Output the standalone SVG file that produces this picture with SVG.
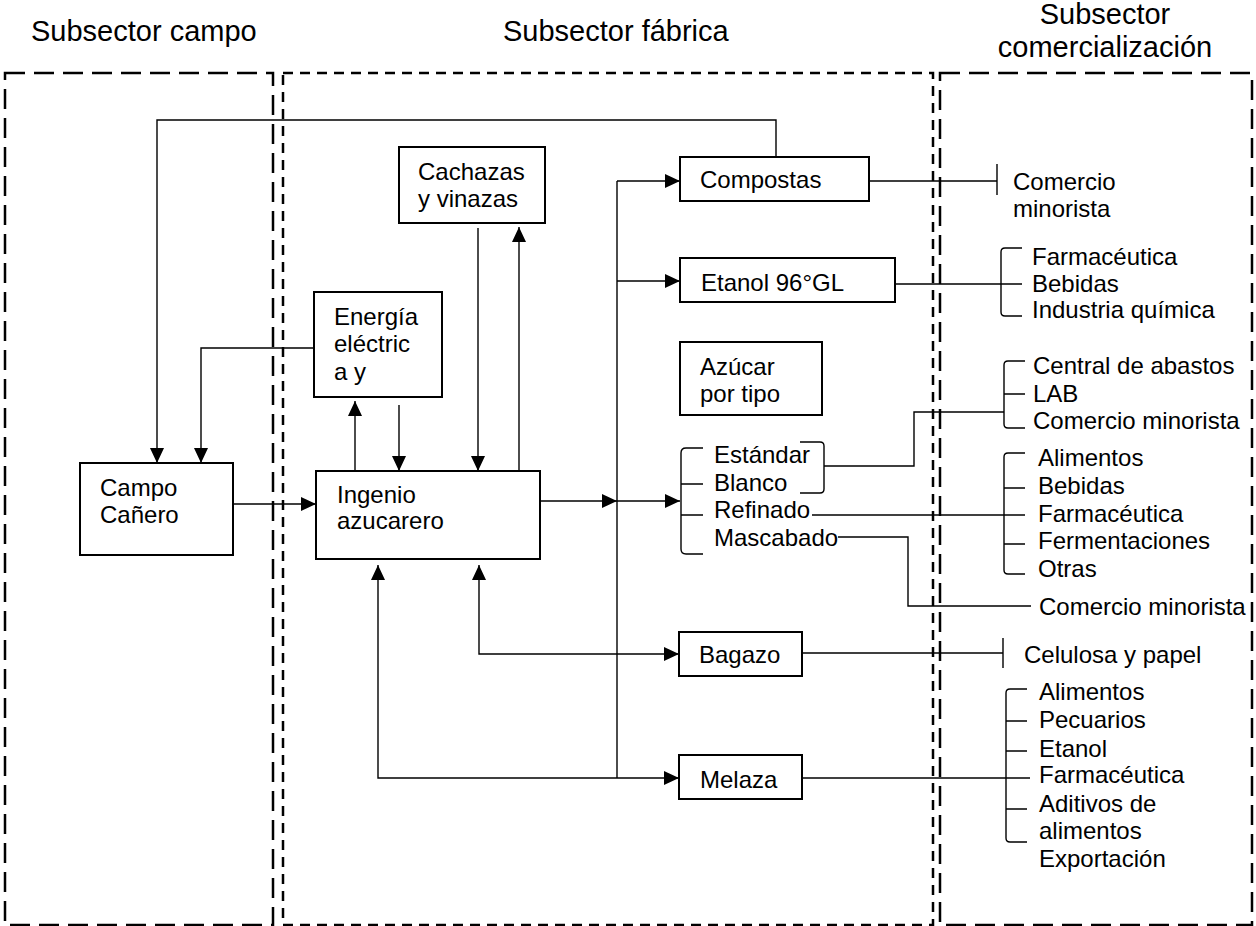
<svg xmlns="http://www.w3.org/2000/svg" width="1256" height="926" viewBox="0 0 1256 926">
<style>
text{font-family:"Liberation Sans",Arial,sans-serif;font-size:24px;fill:#000}
.title{font-size:29px}
.box{fill:#fff;stroke:#000;stroke-width:2}
.c{fill:none;stroke:#000;stroke-width:1.4}
.zlong{fill:none;stroke:#000;stroke-width:2.5;stroke-dasharray:20 9}
.zshort{fill:none;stroke:#000;stroke-width:2.5;stroke-dasharray:10 7}
</style>
<defs>
<marker id="ah" viewBox="0 0 15 14" refX="15" refY="7" markerWidth="15" markerHeight="14" markerUnits="userSpaceOnUse" orient="auto-start-reverse">
<path d="M0,0 L15,7 L0,14 z" fill="#000"/>
</marker>
</defs>
<rect width="1256" height="926" fill="#fff"/>
<g id="zones">
<rect class="zlong" x="5" y="73" width="268" height="852"/>
<rect class="zshort" x="283" y="73" width="650" height="852"/>
<rect class="zlong" x="940" y="73" width="312" height="852"/>
<text class="title" x="31" y="41">Subsector campo</text>
<text class="title" x="503" y="41">Subsector fábrica</text>
<text class="title" x="1105" y="24" text-anchor="middle">Subsector</text>
<text class="title" x="1105" y="57" text-anchor="middle">comercialización</text>
</g>
<g id="connectors">
<path class="c" d="M776 157 V120 H157 V463" marker-end="url(#ah)"/>
<path class="c" d="M314 348 H201 V463" marker-end="url(#ah)"/>
<path class="c" d="M233 504 H316" marker-end="url(#ah)"/>
<path class="c" d="M355 471 V401" marker-end="url(#ah)"/>
<path class="c" d="M399 405 V471" marker-end="url(#ah)"/>
<path class="c" d="M478 228 V471" marker-end="url(#ah)"/>
<path class="c" d="M519 471 V227" marker-end="url(#ah)"/>
<path class="c" d="M540 501 H617" marker-end="url(#ah)"/>
<path class="c" d="M617 501 H680" marker-end="url(#ah)"/>
<path class="c" d="M617 181 V778"/>
<path class="c" d="M617 181 H680" marker-end="url(#ah)"/>
<path class="c" d="M617 281 H680" marker-end="url(#ah)"/>
<path class="c" d="M479 565 V654 H679" marker-start="url(#ah)" marker-end="url(#ah)"/>
<path class="c" d="M378 565 V778 H679" marker-start="url(#ah)" marker-end="url(#ah)"/>
<!-- outputs -->
<path class="c" d="M869 181 H997 M997 164 V195"/>
<path class="c" d="M895 284 H1022 M1022 248 H1005 Q1001 248 1001 252 V312 Q1001 316 1005 316 H1022"/>
<path class="c" d="M703 448 H686 Q681 448 681 453 V549 Q681 554 686 554 H703 M681 484 H703 M681 515 H703"/>
<path class="c" d="M800 442 H820 Q824 442 824 446 V489 Q824 493 820 493 H800"/>
<path class="c" d="M824 466 H914 V412 H1004"/>
<path class="c" d="M1025 361 H1008 Q1004 361 1004 365 V424 Q1004 428 1008 428 H1025 M1004 394 H1025"/>
<path class="c" d="M812 515 H1025"/>
<path class="c" d="M1025 453 H1008 Q1004 453 1004 457 V570 Q1004 574 1008 574 H1025 M1004 488 H1025 M1004 544 H1025"/>
<path class="c" d="M838 537 H908 V606 H1031"/>
<path class="c" d="M802 653 H1003 M1003 638 V668"/>
<path class="c" d="M802 778 H1030"/>
<path class="c" d="M1027 689 H1010 Q1006 689 1006 693 V838 Q1006 842 1010 842 H1027 M1006 721 H1027 M1006 751 H1027 M1006 809 H1027"/>
</g>
<g id="campo">
<rect class="box" x="80" y="463" width="153" height="92"/>
<text x="100" y="496">Campo</text>
<text x="100" y="523">Cañero</text>
</g>
<g id="ingenio">
<rect class="box" x="316" y="471" width="224" height="88"/>
<text x="337" y="503">Ingenio</text>
<text x="337" y="529">azucarero</text>
</g>
<g id="energia">
<rect class="box" x="314" y="292" width="128" height="105"/>
<text x="334" y="325">Energía</text>
<text x="334" y="352">eléctric</text>
<text x="334" y="380">a y</text>
</g>
<g id="cachazas">
<rect class="box" x="399" y="147" width="146" height="76"/>
<text x="418" y="180">Cachazas</text>
<text x="418" y="207">y vinazas</text>
</g>
<g id="compostas">
<rect class="box" x="680" y="157" width="189" height="44"/>
<text x="700" y="188">Compostas</text>
</g>
<g id="etanol">
<rect class="box" x="680" y="258" width="215" height="44"/>
<text x="701" y="291">Etanol 96°GL</text>
</g>
<g id="azucar">
<rect class="box" x="680" y="342" width="142" height="73"/>
<text x="700" y="375">Azúcar</text>
<text x="700" y="402">por tipo</text>
</g>
<g id="tipos">
<text x="714" y="463">Estándar</text>
<text x="714" y="491">Blanco</text>
<text x="714" y="518">Refinado</text>
<text x="714" y="546">Mascabado</text>
</g>
<g id="bagazo">
<rect class="box" x="679" y="632" width="123" height="44"/>
<text x="699" y="663">Bagazo</text>
</g>
<g id="melaza">
<rect class="box" x="679" y="755" width="123" height="44"/>
<text x="700" y="788">Melaza</text>
</g>
<g id="destinos">
<text x="1013" y="190">Comercio</text>
<text x="1013" y="217">minorista</text>
<text x="1032" y="265">Farmacéutica</text>
<text x="1032" y="292">Bebidas</text>
<text x="1032" y="318">Industria química</text>
<text x="1033" y="374">Central de abastos</text>
<text x="1033" y="402">LAB</text>
<text x="1033" y="429">Comercio minorista</text>
<text x="1038" y="466">Alimentos</text>
<text x="1038" y="494">Bebidas</text>
<text x="1038" y="522">Farmacéutica</text>
<text x="1038" y="549">Fermentaciones</text>
<text x="1038" y="577">Otras</text>
<text x="1039" y="615">Comercio minorista</text>
<text x="1024" y="663">Celulosa y papel</text>
<text x="1039" y="700">Alimentos</text>
<text x="1039" y="728">Pecuarios</text>
<text x="1039" y="757">Etanol</text>
<text x="1039" y="783">Farmacéutica</text>
<text x="1039" y="812">Aditivos de</text>
<text x="1039" y="839">alimentos</text>
<text x="1039" y="867">Exportación</text>
</g>
</svg>
